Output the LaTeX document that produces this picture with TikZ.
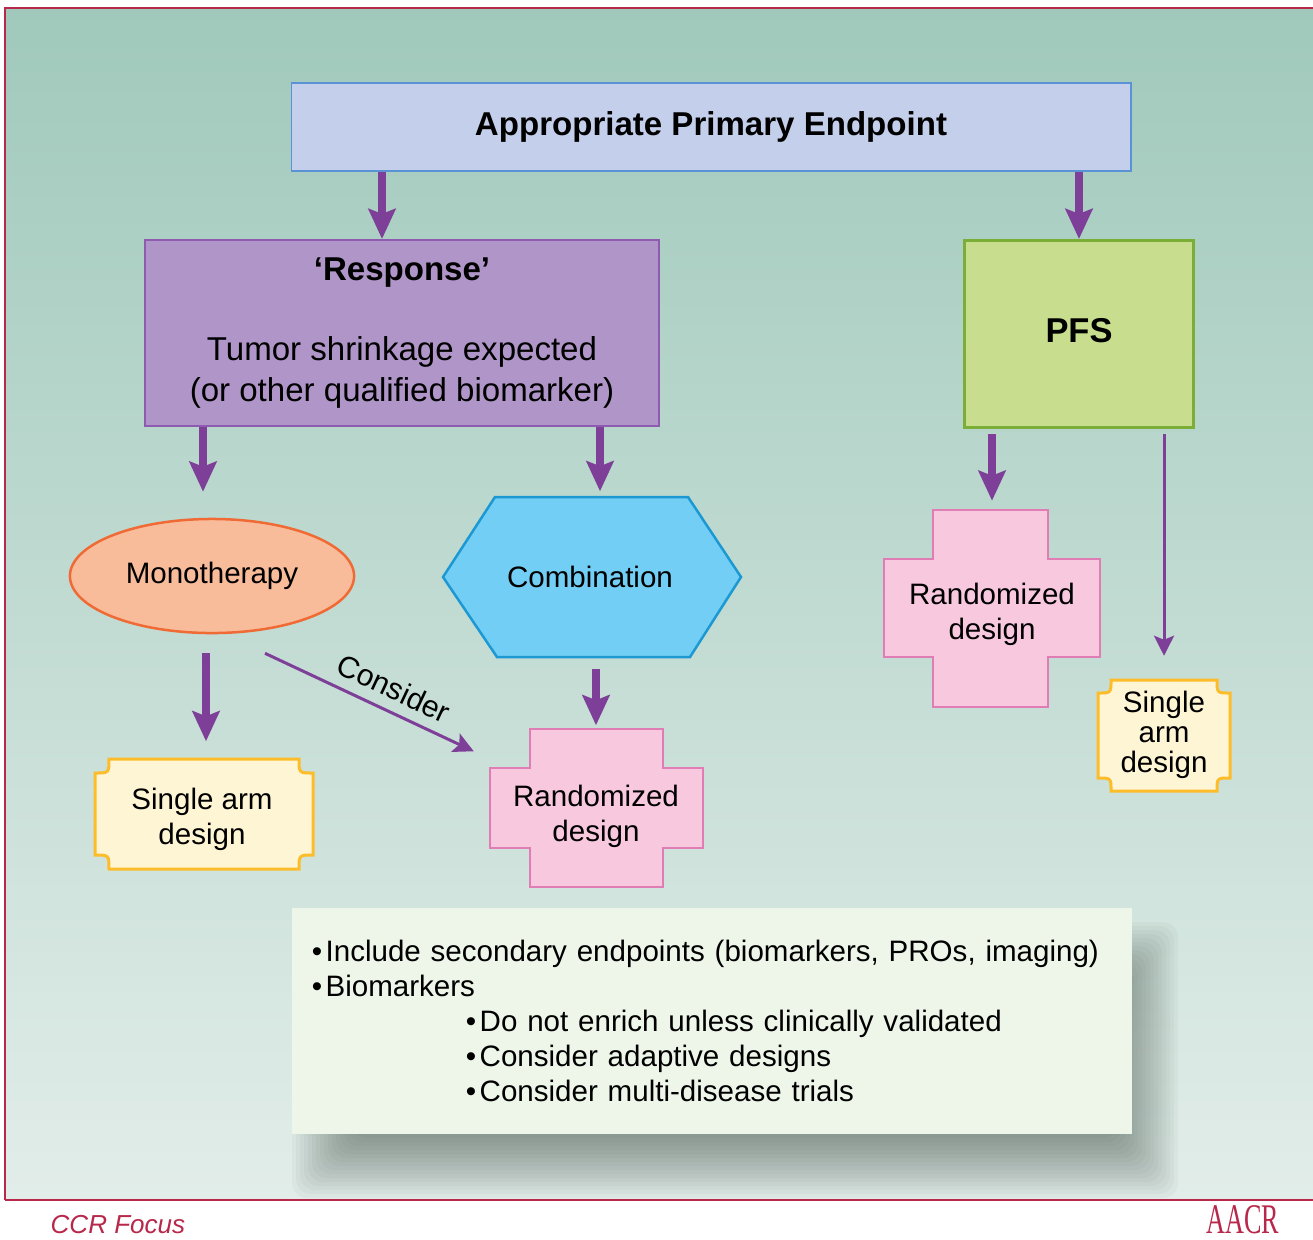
\documentclass[tikz,border=0pt]{standalone}
\usepackage{fontspec}
\setmainfont{Liberation Sans}
\newfontfamily\logofont{Liberation Serif}
\usetikzlibrary{arrows.meta,shapes.geometric,calc}

\definecolor{bgtop}{RGB}{160,201,187}
\definecolor{bgbot}{RGB}{226,237,233}
\definecolor{framered}{RGB}{184,40,74}
\definecolor{arrowpurple}{RGB}{126,63,152}
\definecolor{topfill}{RGB}{196,208,235}
\definecolor{topline}{RGB}{90,146,214}
\definecolor{respfill}{RGB}{176,150,200}
\definecolor{respline}{RGB}{142,91,176}
\definecolor{pfsfill}{RGB}{200,222,142}
\definecolor{pfsline}{RGB}{123,174,55}
\definecolor{monofill}{RGB}{249,188,154}
\definecolor{monoline}{RGB}{239,106,52}
\definecolor{combfill}{RGB}{114,206,244}
\definecolor{combline}{RGB}{28,152,211}
\definecolor{randfill}{RGB}{248,200,223}
\definecolor{randline}{RGB}{224,125,181}
\definecolor{armfill}{RGB}{254,245,212}
\definecolor{armline}{RGB}{253,189,43}
\definecolor{notefill}{RGB}{238,245,233}
\definecolor{shadowgrey}{RGB}{60,75,65}

\begin{document}
\begin{tikzpicture}[x=0.01cm,y=-0.01cm,
    fat/.style={color=arrowpurple,line width=0.08cm,-{Stealth[length=0.3cm,width=0.27cm,inset=0.05cm]}},
    slim/.style={color=arrowpurple,line width=0.03cm,-{Stealth[length=0.2cm,width=0.2cm,inset=0.04cm]}},
    headbox/.style={rectangle,draw,inner sep=0pt,align=center,font=\fontsize{9.4}{11.4}\selectfont},
    shapetext/.style={inner sep=0pt,align=center,font=\fontsize{8.4}{10}\selectfont},
    crossbox/.style={fill=randfill,draw=randline,line width=0.025cm},
    ticketbox/.style={fill=armfill,draw=armline,line width=0.03cm}]

\useasboundingbox (0,0) rectangle (1313,1239);

% background and frame
\fill[white] (0,0) rectangle (1313,1239);
\shade[top color=bgtop,bottom color=bgbot] (5,8) rectangle (1313,1200);
\draw[framered,line width=0.02cm] (1313,8) -- (5,8) -- (5,1200);
\draw[framered,line width=0.025cm] (5,1200) -- (1313,1200);

\node[headbox,fill=topfill,draw=topline,line width=0.015cm,minimum width=8.39cm,minimum height=0.88cm] (top) at (711,127) {\bfseries Appropriate Primary Endpoint};

\node[headbox,fill=respfill,draw=respline,line width=0.02cm,minimum width=5.14cm,minimum height=1.86cm] (resp) at (402,333)
  {{\bfseries ‘Response’}\\[11.4pt]Tumor shrinkage expected\\(or other qualified biomarker)};

\node[headbox,fill=pfsfill,draw=pfsline,line width=0.03cm,minimum width=2.28cm,minimum height=1.87cm,font=\fontsize{9.8}{11}\selectfont] (pfs) at (1079,334) {\raisebox{0.08cm}{\bfseries PFS}};

\node[shapetext,ellipse,fill=monofill,draw=monoline,line width=0.025cm,minimum width=2.84cm,minimum height=1.14cm] (mono) at (212,576) {Monotherapy};

\draw[fill=combfill,draw=combline,line width=0.025cm] (443,577) -- (495,497) -- (688,497) -- (741,577) -- (690,657) -- (497,657) -- cycle;
\node[shapetext,minimum width=2.98cm,minimum height=1.6cm] (comb) at (590,577) {Combination};

\draw[crossbox] (530,729) -- (663,729) -- (663,768) -- (703,768) -- (703,848) -- (663,848) -- (663,887) -- (530,887) -- (530,848) -- (490,848) -- (490,768) -- (530,768) -- cycle;
\node[shapetext,minimum width=2.13cm,minimum height=1.58cm] (rand1) at (596,816) {Randomized\\design};

\draw[crossbox] (933,510) -- (1048,510) -- (1048,559) -- (1100,559) -- (1100,657) -- (1048,657) -- (1048,707) -- (933,707) -- (933,657) -- (884,657) -- (884,559) -- (933,559) -- cycle;
\node[shapetext,minimum width=2.16cm,minimum height=1.97cm] (rand2) at (992,614) {Randomized\\design};

\draw[ticketbox] (109,759) -- (299,759) .. controls (299,773) .. (313,773) -- (313,855) .. controls (299,855) .. (299,869) -- (109,869) .. controls (109,855) .. (95,855) -- (95,773) .. controls (109,773) .. (109,759) -- cycle;
\node[shapetext,minimum width=2.18cm,minimum height=1.1cm] (arm1) at (202,819) {Single arm\\design};

\draw[ticketbox] (1111,680) -- (1217,680) .. controls (1217,693) .. (1230,693) -- (1230,778) .. controls (1217,778) .. (1217,791) -- (1111,791) .. controls (1111,778) .. (1098,778) -- (1098,693) .. controls (1111,693) .. (1111,680) -- cycle;
\node[shapetext,minimum width=1.32cm,minimum height=1.11cm,font=\fontsize{8.4}{8.6}\selectfont] (arm2) at (1164,735) {Single\\arm\\design};

% soft shadow under the note
\foreach \s in {0,...,15}
  \fill[shadowgrey,opacity=0.04,rounded corners=0.15cm] (292+4*\s,922+4*\s) rectangle (1178-4*\s,1198-4*\s);

\node[fill=notefill,minimum width=8.4cm,minimum height=2.26cm,text width=8.0cm,inner xsep=0.2cm,align=left,font=\fontsize{8.4}{9.96}\selectfont] (note) at (712,1021)
  {\textbullet\kern1pt Include secondary endpoints (biomarkers, PROs, imaging)\\
   \textbullet\kern1pt Biomarkers\\
   \hspace*{1.54cm}\textbullet\kern1pt Do not enrich unless clinically validated\\
   \hspace*{1.54cm}\textbullet\kern1pt Consider adaptive designs\\
   \hspace*{1.54cm}\textbullet\kern1pt Consider multi-disease trials};

\draw[fat] ($(top.south -| resp.north)+(-20,0)$) -- ($(resp.north)+(-20,0)$);
\draw[fat] (top.south -| pfs.north) -- (pfs.north);
\draw[fat,shorten >=0.26cm] ($(resp.south -| mono.north)+(-9,0)$) -- ($(mono.north)+(-9,0)$);
\draw[fat,shorten >=0.05cm] ($(resp.south -| comb.north)+(10,0)$) -- ($(comb.north)+(10,0)$);
\draw[fat,shorten <=0.05cm,shorten >=0.14cm] (pfs.south -| rand2.north) -- (rand2.north);
\draw[slim,shorten <=0.05cm,shorten >=0.23cm] (pfs.south -| arm2.north) -- (arm2.north);
\draw[fat,shorten <=0.19cm,shorten >=0.22cm] ($(mono.south -| arm1.north)+(4,0)$) -- ($(arm1.north)+(4,0)$);
\draw[fat,shorten <=0.11cm,shorten >=0.11cm] (comb.south -| rand1.north) -- (rand1.north);
\draw[slim] ($(mono.south)+(53,19)$) -- ($(rand1.north west)+(-15,15)$)
  node (cons) [pos=0.57,above,sloped,inner sep=3pt,font=\fontsize{8.6}{10}\selectfont,text=black] {Consider};

\node[framered,anchor=west,inner sep=0pt,font=\fontsize{7.4}{8}\selectfont\itshape] (ccr) at (50,1225) {CCR Focus};
\node[framered,inner sep=0pt,font=\logofont\fontsize{12}{12}\selectfont] (logo) at (1243,1220) {\scalebox{0.62}[1]{AACR}};

\end{tikzpicture}
\end{document}
